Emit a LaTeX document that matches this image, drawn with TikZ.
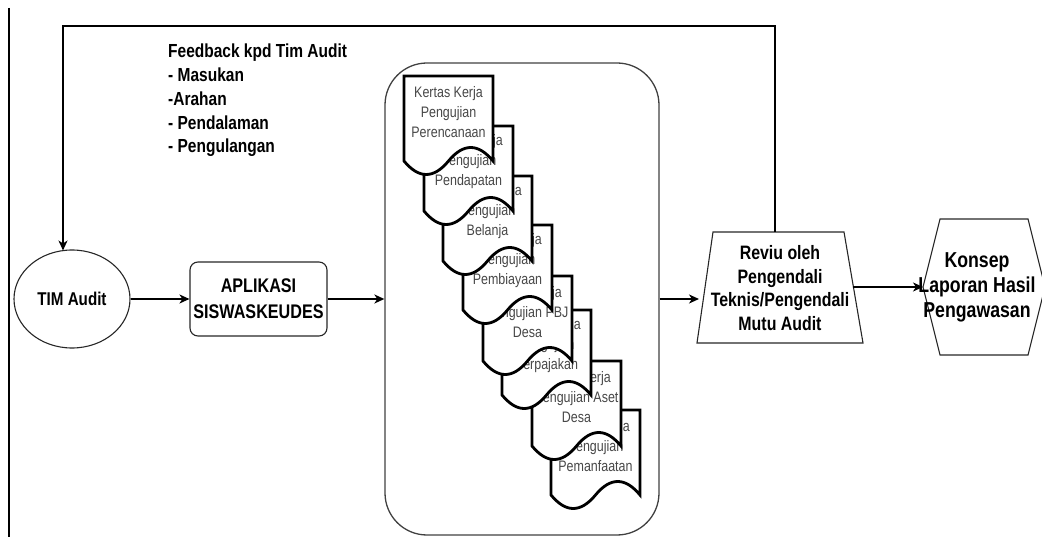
\documentclass[tikz,border=0pt]{standalone}
\usepackage{fontspec}
\setmainfont{Liberation Sans}[FakeStretch=0.82]
\usetikzlibrary{shapes.geometric,arrows.meta}

% One "Kertas Kerja" document sheet: top-left corner at (#2,#3), label #4
\newcommand\kkdoc[4]{%
  \begin{scope}[shift={(#2,#3)}]
    \draw[docline] (0,0) -- (89,0) -- (89,85)
      .. controls (74.17,67) and (59.33,67) .. (44.5,85)
      .. controls (29.67,103) and (14.83,103) .. (0,85) -- cycle;
    \node[doctext] (#1) at (44.5,36) {#4};
  \end{scope}}

\begin{document}
\begin{tikzpicture}[x=1pt,y=-1pt,
  arr/.style={line width=2pt,-{Stealth[length=10pt,width=9pt,inset=3pt]}},
  thinshape/.style={draw=black!85,line width=1.1pt},
  docline/.style={draw=black,fill=white,line width=2.8pt,line join=miter},
  doctext/.style={inner sep=0pt,align=center,text=black!72,
    font=\fontsize{15.2}{20}\selectfont},
  boldtext/.style={inner sep=0pt,align=center,font=\bfseries}]
\useasboundingbox (0,0) rectangle (1042,537);

% left margin rule
\draw[line width=2.5pt] (9,8) -- (9,537);

% feedback note
\node[inner sep=0pt,anchor=west,align=left,
  font=\fontsize{18.9}{23.8}\selectfont\bfseries] (fb) at (168,100.5)
  {Feedback kpd Tim Audit\\- Masukan\\-Arahan\\- Pendalaman\\- Pengulangan};

% audit team and application
\node[ellipse,thinshape,minimum width=116pt,minimum height=98pt,inner sep=0pt,
  font=\fontsize{18.5}{20}\selectfont\bfseries] (tim) at (72,299) {TIM Audit};
\node[thinshape,rounded corners=8pt,minimum width=137pt,minimum height=74pt,
  align=center,font=\fontsize{19.7}{26}\selectfont\bfseries] (apl) at (258.5,299)
  {APLIKASI\\SISWASKEUDES};

% container of working papers
\node[draw=black!75,line width=1.3pt,rounded corners=42pt,
  minimum width=274pt,minimum height=472pt] (kk) at (522,299) {};

% working papers, back to front
\kkdoc{d8}{551}{410}{Kertas Kerja\\Pengujian\\Pemanfaatan}
\kkdoc{d7}{532}{361}{Kertas Kerja\\Pengujian Aset\\Desa}
\kkdoc{d6}{502}{310}{Kertas Kerja\\Pengujian\\Perpajakan}
\kkdoc{d5}{483}{276}{Kertas Kerja\\Pengujian PBJ\\Desa}
\kkdoc{d4}{463}{225}{Kertas Kerja\\Pengujian\\Pembiayaan}
\kkdoc{d3}{443}{176}{Kertas Kerja\\Pengujian\\Belanja}
\kkdoc{d2}{424}{126}{Kertas Kerja\\Pengujian\\Pendapatan}
\kkdoc{d1}{404}{76}{Kertas Kerja\\Pengujian\\Perencanaan}

% review (trapezoid)
\draw[thinshape] (713,232) -- (844,232) -- (863,343) -- (697,343) -- cycle;
\node[boldtext,font=\fontsize{19.4}{23.5}\selectfont\bfseries] (rv) at (780,288)
  {Reviu oleh\\Pengendali\\Teknis/Pengendali\\Mutu Audit};
\coordinate (rvin) at (699,299);
\coordinate (rvout) at (853.4,287);
\coordinate (rvtop) at (775,232);

% report draft (hexagon)
\draw[thinshape] (940,219) -- (1028,219) -- (1045,287) -- (1028,355)
  -- (940,355) -- (923,287) -- cycle;
\node[boldtext,font=\fontsize{21.6}{25}\selectfont\bfseries] (lhp) at (977,287)
  {Konsep\\Laporan Hasil\\Pengawasan};
\coordinate (lhpin) at (923,287);

% feedback loop corners
\coordinate (fbR) at (775,26);
\coordinate (fbL) at (63,26);
\coordinate (timtop) at (63,250.5);

% connectors
\draw[arr] (tim.east) -- (apl.west);
\draw[arr] (apl.east) -- (kk.west);
\draw[arr] (kk.east) -- (rvin);
\draw[arr] (rvout) -- (lhpin);
\draw[arr,line join=miter] (rvtop) -- (fbR) -- (fbL) -- (timtop);
\end{tikzpicture}
\end{document}
